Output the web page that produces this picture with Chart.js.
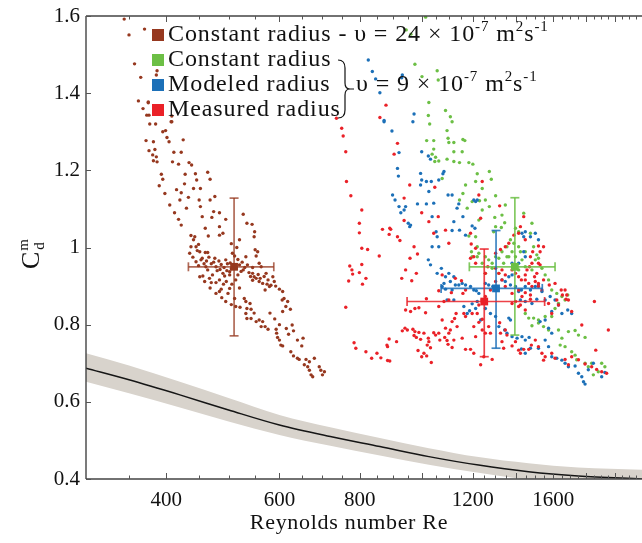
<!DOCTYPE html>
<html>
<head>
<meta charset="utf-8">
<script src="https://cdn.jsdelivr.net/npm/chart.js@4"></script>
<style>
  html, body { margin: 0; padding: 0; background: #fff; }
  #wrap { width: 642px; height: 543px; }
</style>
</head>
<body>
<div id="wrap"><canvas id="chartCanvas" width="642" height="543"></canvas></div>
<script>
// ==========================================
// Data (Re, Cd)
// ==========================================
const brownPts = [[375,1.375],[376,1.343],[372,1.277],[382,1.274],[399,1.303],[401,1.285],[404,1.274],[408,1.326],[411,1.247],[422,1.247],[425,1.279],[376,1.251],[384,1.254],[381,1.240],[382,1.225],[387,1.222],[386,1.235],[393,1.190],[395,1.177],[409,1.222],[418,1.216],[434,1.220],[438,1.214],[444,1.191],[446,1.175],[464,1.195],[468,1.177],[427,1.165],[441,1.153],[452,1.153],[422,1.142],[420,1.123],[450,1.123],[452,1.106],[468,1.123],[476,1.132],[430,1.102],[474,1.093],[471,1.078],[484,1.090],[495,1.073],[418,1.073],[422,1.058],[484,1.054],[490,1.037],[484,1.032],[527,1.086],[534,1.063],[544,1.060],[549,1.041],[548,1.028],[437,1.031],[443,1.028],[441,1.020],[437,1.002],[435,0.985],[445,1.002],[449,1.008],[451,0.989],[460,0.987],[464,0.987],[466,0.975],[453,0.968],[445,0.963],[449,0.953],[461,0.950],[474,0.962],[478,0.950],[487,0.956],[490,0.933],[485,0.943],[495,0.968],[497,0.940],[502,0.937],[507,0.985],[511,0.978],[517,0.969],[517,0.929],[527,0.942],[532,0.976],[535,0.955],[545,0.948],[552,0.978],[550,0.994],[555,0.989],[558,0.959],[562,0.950],[545,0.933],[548,0.924],[552,0.920],[558,0.912],[565,0.907],[572,0.933],[576,0.916],[586,0.924],[579,0.899],[570,0.890],[589,0.912],[600,0.892],[607,0.886],[606,0.864],[610,0.868],[614,0.847],[618,0.860],[624,0.840],[607,0.834],[470,0.909],[467,0.920],[472,0.929],[478,0.909],[484,0.916],[493,0.926],[496,0.912],[502,0.929],[513,0.916],[451,0.924],[456,0.926],[459,0.912],[464,0.942],[478,0.881],[484,0.886],[499,0.881],[487,0.892],[502,0.894],[511,0.868],[513,0.847],[529,0.868],[532,0.860],[534,0.842],[542,0.840],[532,0.829],[534,0.816],[542,0.816],[552,0.808],[558,0.812],[565,0.808],[562,0.795],[570,0.795],[576,0.788],[593,0.788],[594,0.778],[596,0.767],[600,0.760],[603,0.747],[607,0.745],[628,0.799],[631,0.784],[653,0.765],[625,0.730],[631,0.719],[640,0.713],[644,0.710],[656,0.696],[664,0.691],[668,0.682],[672,0.670],[676,0.665],[680,0.713],[692,0.691],[696,0.682],[705,0.678],[700,0.670],[660,0.710],[668,0.704],[344,1.592],[370,1.566],[350,1.551],[357,1.476],[387,1.458],[386,1.447],[365,1.441],[375,1.377],[373,1.343],[377,1.320],[408,1.341],[407,1.326],
  [440,0.975],[447,0.992],[455,0.972],[458,0.958],[462,0.965],[470,0.958],[476,0.972],[480,0.940],[483,0.965],[492,0.948],[498,0.958],[503,0.960],[505,0.945],[509,0.952],[514,0.946],[520,0.955],[523,0.938],[525,0.962],[530,0.948],[538,0.935],[541,0.925],[545,0.915],[556,0.930],[560,0.920],[568,0.925],[574,0.905],[582,0.902],[592,0.900],[468,0.895],[491,0.905],[506,0.905],[520,0.895],[488,0.870],[495,0.860],[505,0.852],[521,0.845],[540,0.855],[548,0.830],[580,0.830],[590,0.815],[600,0.800],[615,0.790],[620,0.775],[640,0.760],[650,0.745],[390,1.160],[398,1.140],[405,1.110],[412,1.090],[415,1.150],[428,1.190],[433,1.130],[455,1.080],[460,1.050],[465,1.030],[505,1.010],[520,1.020],[515,1.000],[395,1.300],[385,1.320],[362,1.380],[368,1.360],[392,1.410]];

const greenPts = [[1025,1.376],[1088,1.355],[1107,1.339],[1114,1.326],[1023,1.342],[1028,1.320],[1094,1.303],[1098,1.283],[1101,1.272],[1121,1.272],[1158,1.280],[1166,1.277],[1017,1.277],[1043,1.277],[1043,1.255],[1037,1.242],[1050,1.234],[1062,1.224],[1047,1.223],[1094,1.229],[1121,1.248],[1155,1.248],[1121,1.223],[1144,1.220],[1183,1.220],[1200,1.216],[1219,1.191],[1273,1.197],[1282,1.177],[1212,1.171],[1241,1.153],[1169,1.162],[1075,1.179],[1144,1.123],[1158,1.140],[1176,1.102],[1197,1.119],[1229,1.121],[1255,1.123],[1302,1.134],[1273,1.106],[1298,1.078],[1332,1.084],[1348,1.110],[1345,1.064],[1329,1.052],[1302,1.054],[1183,1.030],[1212,1.028],[1219,1.002],[1194,0.989],[1197,0.976],[1226,0.985],[1255,0.976],[1286,0.959],[1317,0.972],[1332,0.989],[1356,1.002],[1365,0.976],[1373,1.020],[1398,1.050],[1414,1.041],[1440,1.089],[1483,1.063],[1475,1.037],[1492,1.002],[1509,0.981],[1448,0.989],[1518,0.972],[1537,0.946],[1555,0.929],[1574,0.916],[1431,0.968],[1398,0.950],[1414,0.942],[1448,0.950],[1483,0.942],[1501,0.968],[1423,0.989],[1255,0.933],[1286,0.946],[1317,0.933],[1340,0.959],[1592,0.890],[1621,0.881],[1651,0.873],[1670,0.864],[1686,0.877],[1631,0.855],[1611,0.842],[1592,0.821],[1555,0.821],[1518,0.812],[1492,0.817],[1466,0.817],[1448,0.829],[1483,0.797],[1518,0.804],[1546,0.795],[1574,0.786],[1631,0.786],[1690,0.782],[1731,0.785],[1752,0.773],[1794,0.767],[1651,0.765],[1641,0.747],[1670,0.743],[1710,0.730],[1731,0.721],[1741,0.709],[1794,0.700],[1815,0.691],[1837,0.700],[1848,0.670],[1881,0.678],[1926,0.691],[1904,0.700],[1226,1.071],[1241,1.097],[1293,1.041],[1013,1.597],[945,1.564],[961,1.553],[975,1.475],[1056,1.458],[1060,1.434],[1000,1.443],[1381,0.989],[1356,0.976],[1398,0.976],[1302,0.976],[1270,0.968],[1219,0.976],[1241,0.959],[1414,1.002],[1390,1.011]];

const bluePts = [[972,1.346],[968,1.326],[873,1.326],[898,1.302],[921,1.246],[999,1.248],[1023,1.237],[1031,1.229],[916,1.205],[919,1.185],[995,1.192],[999,1.175],[995,1.162],[1016,1.171],[1025,1.145],[1034,1.171],[1062,1.175],[1078,1.191],[1082,1.197],[900,1.136],[908,1.123],[921,1.106],[938,1.097],[927,1.090],[943,1.106],[952,1.063],[960,1.058],[957,1.054],[984,1.113],[1016,1.113],[1043,1.115],[1037,1.080],[1052,1.041],[1056,1.028],[1037,1.002],[1062,1.002],[1098,1.136],[1114,1.136],[1141,1.113],[1134,1.102],[1158,1.080],[1121,1.067],[1114,1.044],[1144,1.045],[1169,1.032],[1197,1.056],[1209,1.050],[1204,1.123],[1212,1.119],[1219,1.123],[1023,0.968],[1031,0.955],[1056,0.933],[1072,0.946],[1088,0.924],[1101,0.933],[1107,0.912],[1121,0.924],[1082,0.907],[1075,0.899],[1088,0.892],[1114,0.890],[1127,0.903],[1141,0.903],[1155,0.907],[1169,0.903],[1190,0.899],[1204,0.890],[1215,0.888],[1226,0.881],[1255,0.907],[1270,0.903],[1289,0.899],[1298,0.890],[1314,0.894],[1332,0.916],[1348,0.912],[1365,0.924],[1381,0.929],[1373,0.903],[1398,0.899],[1414,0.886],[1428,0.890],[1448,0.899],[1475,0.890],[1501,0.899],[1518,0.903],[1537,0.886],[1094,0.864],[1121,0.864],[1162,0.847],[1176,0.829],[1186,0.836],[1197,0.854],[1212,0.842],[1219,0.860],[1234,0.812],[1255,0.842],[1278,0.829],[1302,0.821],[1317,0.795],[1345,0.786],[1356,0.778],[1365,0.817],[1373,0.812],[1381,0.769],[1406,0.765],[1431,0.769],[1448,0.760],[1468,0.767],[1428,0.737],[1448,0.726],[1475,0.739],[1518,0.739],[1555,0.760],[1574,0.743],[1592,0.717],[1621,0.713],[1651,0.708],[1670,0.700],[1690,0.691],[1731,0.693],[1752,0.674],[1773,0.665],[1784,0.652],[1794,0.646],[1815,0.683],[1848,0.700],[1904,0.665],[1926,0.676],[1431,1.037],[1448,1.041],[1440,1.028],[1475,1.028],[1501,1.037],[1518,1.020],[1440,0.989],[1448,0.976],[1414,0.959],[1381,0.959],[1423,0.864],[1448,0.860],[1483,0.855],[1509,0.866],[1555,0.864],[1583,0.873],[1611,0.864],[1631,0.851],[1592,0.834],[1651,0.829],[1555,0.812],[1527,0.808],[1574,0.791],[1592,0.778],[1710,0.829],[1686,0.838],[825,1.486],[837,1.456],[847,1.437],[860,1.401],[932,1.447],[930,1.440],[873,1.329]];

const redPts = [[879,1.369],[860,1.337],[750,1.309],[754,1.289],[761,1.248],[916,1.270],[905,1.242],[763,1.171],[775,1.134],[806,1.097],[799,1.063],[799,1.038],[806,0.998],[823,0.995],[868,1.047],[891,1.050],[894,1.047],[889,1.034],[916,1.028],[924,1.018],[938,1.070],[938,1.128],[957,1.162],[972,1.002],[984,0.983],[858,0.978],[943,0.942],[930,0.920],[964,0.914],[772,0.952],[778,0.942],[780,0.931],[769,0.913],[799,0.935],[806,0.956],[808,0.905],[818,0.920],[761,0.845],[784,0.753],[789,0.739],[818,0.730],[835,0.713],[851,0.726],[863,0.714],[884,0.707],[891,0.706],[882,0.747],[889,0.763],[884,0.743],[913,0.756],[932,0.784],[941,0.791],[949,0.786],[968,0.788],[975,0.782],[972,0.772],[980,0.767],[989,0.780],[995,0.762],[1007,0.778],[1023,0.765],[1025,0.756],[1031,0.740],[1017,0.719],[1007,0.726],[999,0.717],[986,0.733],[1034,0.702],[1019,0.747],[1043,0.779],[1050,0.773],[1062,0.778],[1066,0.760],[1075,0.812],[1085,0.767],[1088,0.791],[1101,0.778],[1107,0.786],[1114,0.808],[1124,0.816],[1130,0.829],[1134,0.795],[1121,0.760],[1114,0.741],[1094,0.759],[1098,0.749],[1155,0.765],[1169,0.736],[1190,0.736],[1204,0.726],[1248,0.717],[1234,0.696],[1286,0.710],[1062,0.888],[1075,0.929],[1088,1.045],[1101,1.011],[1060,1.080],[1047,1.156],[999,1.090],[1025,1.067],[1043,1.037],[958,0.972],[980,0.933],[1013,0.831],[989,0.844],[960,0.834],[943,0.838],[975,0.842],[1016,0.867],[1062,0.847],[1082,0.860],[1101,0.864],[1111,0.883],[1158,0.881],[1127,0.920],[1152,0.914],[1169,0.821],[1162,0.829],[1197,0.829],[1226,0.806],[1241,0.814],[1270,0.795],[1278,0.778],[1321,0.805],[1325,0.778],[1332,0.756],[1340,0.739],[1381,0.745],[1398,0.756],[1414,0.734],[1423,0.726],[1440,0.736],[1466,0.736],[1480,0.747],[1501,0.760],[1518,0.743],[1537,0.726],[1546,0.708],[1555,0.717],[1592,0.726],[1611,0.713],[1670,0.710],[1710,0.717],[1690,0.696],[1752,0.709],[1794,0.698],[1837,0.691],[1870,0.684],[1904,0.678],[1938,0.674],[1864,0.734],[1855,0.860],[1950,0.786],[1773,0.799],[1710,0.834],[1676,0.866],[1670,0.890],[1647,0.890],[1654,0.877],[1680,0.877],[1690,0.864],[1621,0.864],[1631,0.851],[1592,0.829],[1574,0.855],[1611,0.907],[1578,0.903],[1546,0.916],[1518,0.907],[1497,0.924],[1509,0.933],[1483,0.959],[1518,0.959],[1527,0.955],[1475,0.976],[1487,0.989],[1518,1.004],[1546,1.002],[1527,0.989],[1440,1.080],[1423,1.054],[1448,1.020],[1414,1.037],[1390,1.032],[1365,1.011],[1348,1.002],[1325,0.995],[1302,0.985],[1302,0.946],[1317,0.933],[1332,0.942],[1348,0.929],[1381,0.942],[1398,0.933],[1414,0.924],[1428,0.916],[1448,0.929],[1457,0.942],[1470,0.950],[1448,0.916],[1466,0.907],[1483,0.899],[1501,0.912],[1518,0.899],[1537,0.890],[1475,0.877],[1448,0.883],[1431,0.873],[1414,0.890],[1381,0.881],[1348,0.899],[1332,0.916],[1302,0.912],[1278,0.890],[1255,0.873],[1241,0.864],[1226,0.851],[1219,0.829],[1204,0.795],[1212,0.769],[1241,0.786],[1255,0.778],[1356,0.773],[1348,0.786],[1381,0.855],[1414,0.847],[1448,0.838],[1475,0.866],[1423,0.851],[1398,0.860],[1321,1.108],[1234,1.076],[1241,1.171],[1226,1.136],[1193,1.009],[1212,0.998],[1204,0.976],[1190,0.972],[1212,0.959],[1190,1.037],[1255,0.933],[1266,0.950],[1169,0.890],[736,1.335]];

// mean values with error bars: [Re, Cd, ReLow, ReHigh, CdLow, CdHigh]
const brownMean = [510, 0.950, 433, 588, 0.771, 1.128];
const greenMean = [1395, 0.950, 1185, 1611, 0.773, 1.129];
const blueMean = [1304, 0.894, 1071, 1539, 0.739, 1.044];
const redMean = [1250, 0.860, 948, 1552, 0.717, 0.996];

// drag correlation curve with its band
const curveRe = [300, 350, 420, 500, 600, 720, 860, 1025, 1225, 1465, 1750, 2200];
const curveCd = [0.687, 0.657, 0.618, 0.579, 0.540, 0.510, 0.484, 0.458, 0.436, 0.419, 0.408, 0.400];
const bandHigh = [0.726, 0.694, 0.652, 0.610, 0.566, 0.534, 0.506, 0.480, 0.457, 0.441, 0.430, 0.424];
const bandLow = [0.652, 0.622, 0.585, 0.549, 0.514, 0.486, 0.461, 0.437, 0.416, 0.398, 0.387, 0.378];

// axes
const xMin = 300, xMax = 2200, xStep = 50;
const xLabels = [400, 600, 800, 1200, 1600];
const yMin = 0.4, yMax = 1.6, yStep = 0.2;

// colours
const BROWN = "#96381f", GREEN = "#6cbf45", BLUE = "#1c70b8", RED = "#ea2128";

const FONT = '"Liberation Serif", "Times New Roman", serif';

// =====================================================
// Helpers
// =====================================================
const toXY = arr => arr.map(p => ({ x: p[0], y: p[1] }));

function cloud(label, pts, color, order) {
    return {
        label, data: toXY(pts), order,
        pointRadius: 1.7, pointHoverRadius: 1.7, borderWidth: 0,
        backgroundColor: color, pointBorderWidth: 0
    };
}

// error bar = horizontal + vertical line datasets + square marker
function errorBars(m, color, barColor) {
    const bar = {
        showLine: true, order: 0, borderColor: barColor, borderWidth: 1.7,
        pointStyle: "line", pointRadius: 4.5, pointHoverRadius: 4.5,
        pointBorderColor: barColor, pointBorderWidth: 1.7, backgroundColor: barColor
    };
    return [
        { ...bar, data: [{ x: m[2], y: m[1] }, { x: m[3], y: m[1] }], rotation: 90 },
        { ...bar, data: [{ x: m[0], y: m[4] }, { x: m[0], y: m[5] }], rotation: 0 },
        {
            data: [{ x: m[0], y: m[1] }], order: 0, pointStyle: "rect",
            pointRadius: 5.5, pointHoverRadius: 5.5, backgroundColor: color, borderWidth: 0
        }
    ];
}

function curveData(ys) {
    return curveRe.map((x, i) => ({ x, y: ys[i] }));
}

// =====================================================
// Frame, inward ticks, legend and titles
// =====================================================
function drawRuns(ctx, parts, x, y, size) {
    for (const [t, sup] of parts) {
        const s = sup ? Math.round(size * 0.64) : size;
        ctx.font = s + "px " + FONT;
        ctx.fillText(t, x, sup ? y - size * 0.4 : y);
        x += ctx.measureText(t).width;
    }
    return x;
}

const legendItems = [
    { color: BROWN, parts: [["Constant radius - υ = 24 × 10", 0], ["-7", 1], [" m", 0], ["2", 1], ["s", 0], ["-1", 1]] },
    { color: GREEN, parts: [["Constant radius", 0]] },
    { color: BLUE, parts: [["Modeled radius", 0]] },
    { color: RED, parts: [["Measured radius", 0]] }
];
const braceText = [["υ = 9 × 10", 0], ["-7", 1], [" m", 0], ["2", 1], ["s", 0], ["-1", 1]];

const decorPlugin = {
    id: "decor",
    afterDatasetsDraw(chart) {
        const { ctx, chartArea: a, scales } = chart;
        const xs = scales.x, ys = scales.y;
        ctx.save();

        // box
        ctx.strokeStyle = "#444";
        ctx.lineWidth = 1.4;
        ctx.beginPath();
        ctx.moveTo(a.left, a.top); ctx.lineTo(a.right + 2, a.top);
        ctx.moveTo(a.left, a.top); ctx.lineTo(a.left, a.bottom);
        ctx.moveTo(a.left, a.bottom); ctx.lineTo(a.right + 2, a.bottom);
        ctx.stroke();

        // inward ticks
        ctx.lineWidth = 1;
        ctx.strokeStyle = "#555";
        ctx.beginPath();
        for (let v = xMin + xStep; v < xMax; v += xStep) {
            const px = Math.round(xs.getPixelForValue(v)) + 0.5;
            const len = v % 200 === 0 ? 6 : 3.5;
            ctx.moveTo(px, a.bottom); ctx.lineTo(px, a.bottom - len);
            ctx.moveTo(px, a.top); ctx.lineTo(px, a.top + len);
        }
        for (let v = yMin; v <= yMax + 1e-9; v += yStep) {
            const py = Math.round(ys.getPixelForValue(v)) + 0.5;
            ctx.moveTo(a.left, py); ctx.lineTo(a.left + 5, py);
        }
        ctx.stroke();

        // legend
        ctx.textBaseline = "alphabetic";
        ctx.letterSpacing = "0.9px";
        const size = 24;
        legendItems.forEach((it, i) => {
            const base = 41 + i * 25;
            ctx.fillStyle = it.color;
            ctx.fillRect(152, base - 12, 12, 12);
            ctx.fillStyle = "#111";
            drawRuns(ctx, it.parts, 168, base, size);
        });

        // brace joining the three 9e-7 series
        ctx.strokeStyle = "#111";
        ctx.lineWidth = 1.2;
        ctx.beginPath();
        ctx.moveTo(338, 60);
        ctx.quadraticCurveTo(345, 60, 345, 68);
        ctx.lineTo(345, 83);
        ctx.quadraticCurveTo(345, 89, 350, 89);
        ctx.quadraticCurveTo(345, 89, 345, 95);
        ctx.lineTo(345, 110);
        ctx.quadraticCurveTo(345, 118, 338, 118);
        ctx.moveTo(350, 89); ctx.lineTo(354, 89);
        ctx.stroke();
        drawRuns(ctx, braceText, 356, 91, size);

        // axis titles
        ctx.letterSpacing = "0.7px";
        ctx.font = "22px " + FONT;
        ctx.textAlign = "center";
        ctx.fillText("Reynolds number Re", 349, 529);

        ctx.letterSpacing = "0px";
        ctx.textAlign = "left";
        ctx.translate(39, 269);
        ctx.rotate(-Math.PI / 2);
        ctx.font = "26px " + FONT;
        ctx.fillText("C", 0, 0);
        const wc = ctx.measureText("C").width;
        ctx.font = "15px " + FONT;
        ctx.fillText("m", wc + 1, -11);
        ctx.fillText("d", wc + 2, 5);
        ctx.restore();
    }
};

// =====================================================
// Chart.js Setup
// =====================================================
const ctx = document.getElementById("chartCanvas").getContext("2d");

const chart = new Chart(ctx, {
    type: "scatter",
    data: {
        datasets: [
            ...errorBars(redMean, RED, "rgba(234,33,40,0.85)"),
            ...errorBars(blueMean, BLUE, "rgba(28,112,184,0.85)"),
            ...errorBars(greenMean, GREEN, "rgba(108,191,69,0.85)"),
            ...errorBars(brownMean, BROWN, "rgba(150,56,31,0.75)"),
            cloud("Measured radius", redPts, RED, 1),
            cloud("Modeled radius", bluePts, BLUE, 2),
            cloud("Constant radius", greenPts, GREEN, 3),
            cloud("Constant radius 24", brownPts, BROWN, 4),
            {
                data: curveData(curveCd), showLine: true, order: 5,
                borderColor: "#151515", borderWidth: 1.5, pointRadius: 0,
                cubicInterpolationMode: "monotone"
            },
            {
                data: curveData(bandHigh), showLine: true, order: 6,
                borderWidth: 0, pointRadius: 0, cubicInterpolationMode: "monotone",
                backgroundColor: "#d8d3cc", fill: "+1"
            },
            {
                data: curveData(bandLow), showLine: true, order: 7,
                borderWidth: 0, pointRadius: 0, cubicInterpolationMode: "monotone"
            }
        ]
    },
    options: {
        responsive: false,
        animation: false,
        events: [],
        layout: { autoPadding: false, padding: { top: 16, right: 0, left: 0, bottom: 0 } },
        plugins: { legend: { display: false }, tooltip: { enabled: false } },
        scales: {
            x: {
                type: "logarithmic", min: xMin, max: xMax,
                grid: { display: false, drawTicks: false },
                border: { display: false },
                afterBuildTicks: s => {
                    const t = [];
                    for (let v = xMin; v <= xMax; v += xStep) t.push({ value: v });
                    s.ticks = t;
                },
                afterFit: s => { s.height = 64; s.paddingLeft = 0; s.paddingRight = 0; },
                ticks: {
                    autoSkip: false, maxRotation: 0, padding: 9, color: "#111",
                    font: { family: FONT, size: 21 },
                    callback: v => xLabels.includes(v) ? String(v) : ""
                }
            },
            y: {
                min: yMin, max: yMax,
                grid: { display: false, drawTicks: false },
                border: { display: false },
                afterFit: s => { s.width = 86; s.paddingTop = 0; s.paddingBottom = 0; },
                ticks: {
                    stepSize: yStep, padding: 6, color: "#111",
                    font: { family: FONT, size: 21 },
                    callback: v => String(+v.toFixed(1))
                }
            }
        }
    },
    plugins: [decorPlugin]
});
</script>
</body>
</html>
